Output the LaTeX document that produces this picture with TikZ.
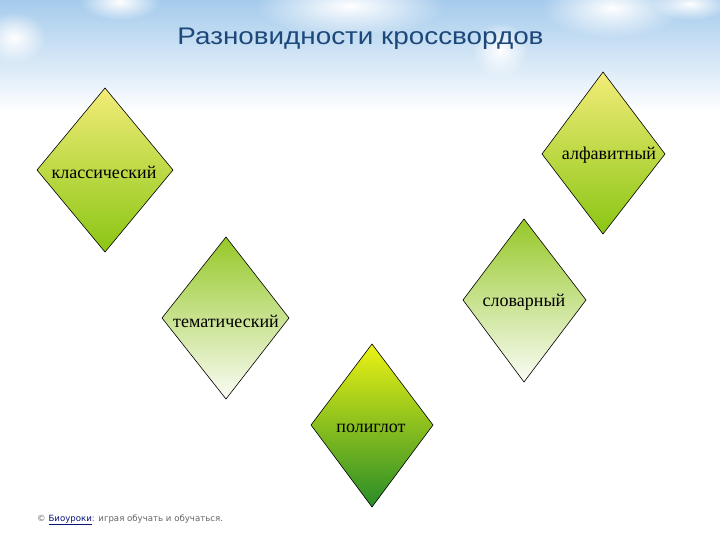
\documentclass[tikz,border=0pt]{standalone}
\usepackage{fontspec}
\setmainfont{Liberation Serif}
\newfontfamily\arialfont{Liberation Sans}
\newfontfamily\footfont{DejaVu Sans}
\usetikzlibrary{fadings}
\tikzfading[name=cloudfade, inner color=transparent!0, outer color=transparent!100]
\definecolor{sky}{RGB}{165,203,236}
\definecolor{titleblue}{RGB}{28,72,122}
\definecolor{linkblue}{RGB}{10,20,120}
\definecolor{footgray}{RGB}{100,100,100}
\definecolor{ylwtop}{RGB}{242,236,120}
\definecolor{ylwbot}{RGB}{138,198,20}
\definecolor{grntop}{RGB}{150,200,40}
\definecolor{grnbot}{RGB}{250,252,246}
\definecolor{polytop}{RGB}{236,242,20}
\definecolor{polybot}{RGB}{40,140,40}
\tikzset{
  rh/.style={draw=black, line width=0.6pt},
  ylwgrad/.style={top color=ylwtop, bottom color=ylwbot},
  grngrad/.style={top color=grntop, bottom color=grnbot},
  polygrad/.style={top color=polytop, bottom color=polybot},
  lbl/.style={font=\fontsize{18}{21}\selectfont, text=black, inner sep=0pt},
  cloud/.style={fill=white, path fading=cloudfade}
}
\begin{document}
\begin{tikzpicture}[x=1pt,y=-1pt]
\useasboundingbox (0,0) rectangle (720,540);
\fill[white] (0,0) rectangle (720,540);
\shade[top color=sky, bottom color=white] (0,0) rectangle (720,112);
% clouds
\fill[cloud] (120,2) ellipse (40 and 18);
\fill[cloud] (350,6) ellipse (95 and 30);
\fill[cloud] (612,8) ellipse (70 and 30);
\fill[cloud] (14,38) ellipse (32 and 26);
\fill[cloud] (500,50) ellipse (28 and 28);
\fill[cloud] (690,4) ellipse (40 and 16);
% title
\node[font=\arialfont\fontsize{24}{28}\selectfont, text=titleblue, anchor=base, xscale=1.16, inner sep=0pt] (title) at (360.5,45) {Разновидности кроссвордов};
% diamonds
\draw[rh, ylwgrad] (105,88) coordinate (d1t) -- (173,170) -- (105,252) -- (37,170) -- cycle;
\draw[rh, ylwgrad] (603,72) coordinate (d2t) -- (665,154) -- (603,234) -- (542,154) -- cycle;
\draw[rh, grngrad] (226,237) coordinate (d3t) -- (289,318) -- (226,399) -- (162,318) -- cycle;
\draw[rh, grngrad] (524,219) coordinate (d4t) -- (586,300) -- (524,382) -- (463,300) -- cycle;
\draw[rh, polygrad] (372,344) coordinate (d5t) -- (433,425) -- (372,507) -- (311,425) -- cycle;
% labels
\node[lbl] (l1) at (104,172) {классический};
\node[lbl] (l2) at (609,155) {алфавитный};
\node[lbl] (l3) at (226,321) {тематический};
\node[lbl] (l4) at (524,302) {словарный};
\node[lbl] (l5) at (371,428) {полиглот};
% footer
\node[anchor=base west, inner sep=0pt, font=\footfont\fontsize{8.6}{10}\selectfont, text=footgray] (foot) at (37,521) {©~\textcolor{linkblue}{\underline{Биоуроки}}: играя обучать и обучаться.};
\end{tikzpicture}
\end{document}
